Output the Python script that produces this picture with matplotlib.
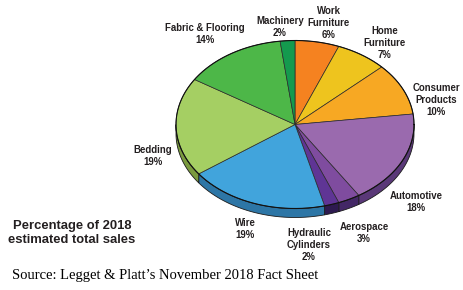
import numpy as np
import matplotlib
matplotlib.use("Agg")
import matplotlib.pyplot as plt
from matplotlib.patches import Polygon
from matplotlib import font_manager as fm

# ---- data ----
categories = ["Work\nFurniture", "Home\nFurniture", "Consumer\nProducts", "Automotive",
              "Aerospace", "Hydraulic\nCylinders", "Wire", "Bedding",
              "Fabric & Flooring", "Machinery"]
values = [6, 7, 10, 18, 3, 2, 19, 19, 14, 2]
top_colors = ["#F58220", "#EEC41E", "#F7A823", "#9A6AAE", "#7F4C9F",
              "#5F3595", "#41A4DC", "#A5CF63", "#4DB748", "#149A4E"]
side_colors = ["#B85F15", "#B09015", "#B87B18", "#5A3878", "#432766",
               "#2E1A50", "#2D76A6", "#7A9A3E", "#37863A", "#0E7038"]
title_text = "Percentage of 2018\nestimated total sales"
source_text = "Source: Legget & Platt\u2019s November 2018 Fact Sheet"

# ---- layout (pixel space) ----
W, H = 464, 290
cx, cy, a, b, depth = 295, 124.5, 119, 84, 9
label_pos = [(329, 23), (385, 43), (436, 100), (416, 202), (364, 233),
             (309, 245), (245, 229), (153, 156), (205, 34), (280, 27)]

def available(name):
    try:
        fm.findfont(fm.FontProperties(family=name), fallback_to_default=False)
        return True
    except Exception:
        return False

if available("Liberation Sans Narrow"):
    lab_font, lab_size = ["Liberation Sans Narrow", "DejaVu Sans"], 7.8
elif available("DejaVu Sans Condensed"):
    lab_font, lab_size = ["DejaVu Sans Condensed", "DejaVu Sans"], 7.0
else:
    lab_font, lab_size = ["Liberation Sans", "DejaVu Sans"], 6.9

fig = plt.figure(figsize=(W / 100, H / 100), dpi=100)
ax = fig.add_axes([0, 0, 1, 1])
ax.set_xlim(0, W)
ax.set_ylim(H, 0)
ax.axis("off")

def pt(theta_deg, dy=0.0):
    t = np.radians(theta_deg)
    return cx + a * np.cos(t), cy - b * np.sin(t) + dy

total = float(sum(values))
cum = np.concatenate([[0], np.cumsum(values)]) / total
starts = 90 - 360 * cum[:-1]
ends = 90 - 360 * cum[1:]

# side walls (front half: theta in (-180, 0))
for s, e, sc in zip(starts, ends, side_colors):
    hi = min(s, 0)
    lo = max(e, -180)
    if hi <= lo:
        continue
    th = np.linspace(hi, lo, 60)
    xs, ys = pt(th)
    top = np.column_stack([xs, ys])
    bot = np.column_stack([xs, ys + depth])[::-1]
    poly = Polygon(np.vstack([top, bot]), closed=True, facecolor=sc,
                   edgecolor="#1a1a1a", linewidth=0.6, zorder=1)
    ax.add_patch(poly)

# top faces
for s, e, tc in zip(starts, ends, top_colors):
    th = np.linspace(s, e, 120)
    xs, ys = pt(th)
    verts = np.vstack([[cx, cy], np.column_stack([xs, ys])])
    poly = Polygon(verts, closed=True, facecolor=tc, edgecolor="#2a2a2a",
                   linewidth=0.5, zorder=2)
    ax.add_patch(poly)

# outer outline of top ellipse
th = np.linspace(0, 360, 400)
xs, ys = pt(th)
ax.plot(xs, ys, color="#111111", linewidth=0.8, zorder=3)

# labels
for cat, v, (lx, ly) in zip(categories, values, label_pos):
    ax.text(lx, ly, f"{cat}\n{v}%", ha="center", va="center",
            fontsize=lab_size, fontweight="bold", family=lab_font,
            color="#231F20", linespacing=1.25, zorder=5)

ax.text(72, 233, title_text, ha="center", va="center", fontsize=9.4,
        fontweight="bold", family=["Liberation Sans", "DejaVu Sans"],
        color="#231F20", linespacing=1.15)

ax.text(12, 275, source_text, ha="left", va="center", fontsize=10.5,
        family=["Liberation Serif", "DejaVu Serif"], color="black")

fig.savefig("out.png", dpi=100)
